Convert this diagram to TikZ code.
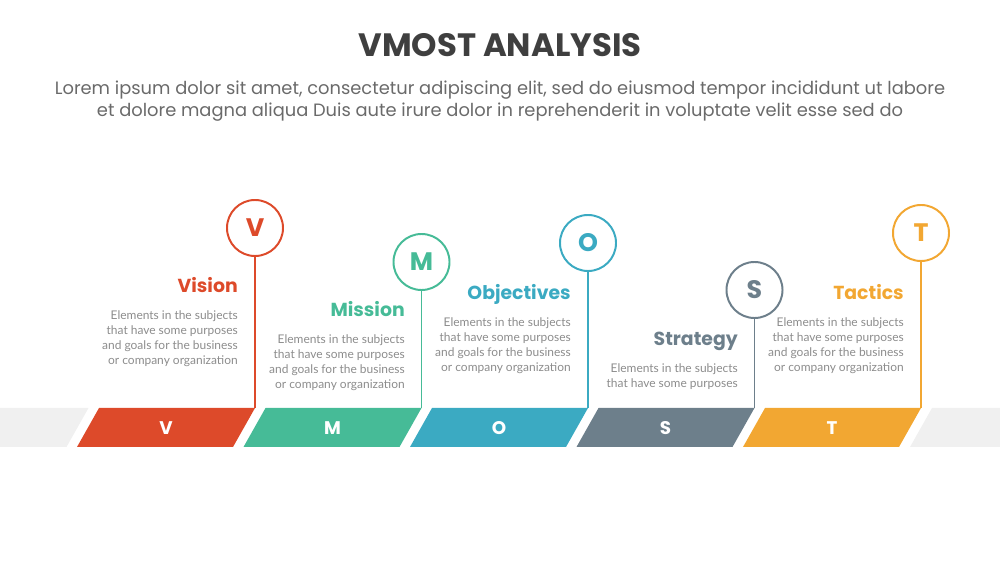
\documentclass[tikz,border=0pt]{standalone}
\usepackage{fontspec}
\setmainfont{Lato}
\newfontfamily\poppins{Poppins}
\usetikzlibrary{positioning,calc}
\definecolor{colV}{HTML}{DD4A2A}
\definecolor{colM}{HTML}{46BB97}
\definecolor{colO}{HTML}{3BAAC2}
\definecolor{colS}{HTML}{6D7F8B}
\definecolor{colT}{HTML}{F2A732}
\definecolor{band}{HTML}{F0F0F0}
\definecolor{titlegray}{HTML}{3F3F3F}
\definecolor{subgray}{HTML}{6A6A6A}
\definecolor{txtgray}{HTML}{8C8C8C}
\tikzset{stemline/.style={draw, line width=1.4pt}}

\begin{document}
\begin{tikzpicture}[x=0.025cm, y=-0.025cm,
    lettercircle/.style={circle, draw, line width=1.4pt, fill=white, inner sep=0pt, minimum size=1.4cm, font={\poppins\bfseries\fontsize{18}{20}\selectfont}},
    barletter/.style={inner sep=0pt, text=white, font={\poppins\bfseries\fontsize{13}{15}\selectfont}},
    heading/.style={inner sep=0pt, text height=9pt, text depth=3pt, font={\poppins\bfseries\fontsize{13.4}{16}\selectfont}},
    descr/.style={inner sep=0pt, align=right, text=txtgray, font={\fontsize{8.5}{10.7}\selectfont}}]
    \useasboundingbox (0,0) rectangle (1000,563);

    \node[text=titlegray, font={\poppins\bfseries\fontsize{23}{27}\selectfont}] (title) at (500,45) {VMOST ANALYSIS};
    \node[text=subgray, align=center, font={\poppins\fontsize{12.7}{15.6}\selectfont}] (subtitle) at (500,101) {Lorem ipsum dolor sit amet, consectetur adipiscing elit, sed do eiusmod tempor incididunt ut labore\\et dolore magna aliqua Duis aute irure dolor in reprehenderit in voluptate velit esse sed do};

    % grey band ends
    \fill[band] (0,408) -- (88.5,408) -- (66.5,447) -- (0,447) -- cycle;
    \fill[band] (932,408) -- (1000,408) -- (1000,447) -- (910,447) -- cycle;

    % V
    \fill[colV] (77,447) -- (99,408) -- (255,408) -- (233,447) -- cycle;
    \coordinate (pV) at (255,408);
    \node[barletter] (bV) at (166,428) {V};
    \node[lettercircle, draw=colV, text=colV] (cV) at (255,228) {V};
    \draw[stemline, colV] (cV) -- (pV);
    \node[heading, text=colV, anchor=east] (hV) at (238,288) {Vision};
    \node[descr, below left=3.3mm and 0mm of hV.south east] (dV) {Elements in the subjects\\that have some purposes\\and goals for the business\\or company organization};

    % M
    \fill[colM] (243.5,447) -- (265.5,408) -- (421.5,408) -- (399.5,447) -- cycle;
    \coordinate (pM) at (421.5,408);
    \node[barletter] (bM) at (332.5,428) {M};
    \node[lettercircle, draw=colM, text=colM] (cM) at (421.5,262) {M};
    \draw[stemline, colM] (cM) -- (pM);
    \node[heading, text=colM, anchor=east] (hM) at (405,312) {Mission};
    \node[descr, below left=3.3mm and 0mm of hM.south east] (dM) {Elements in the subjects\\that have some purposes\\and goals for the business\\or company organization};

    % O
    \fill[colO] (410,447) -- (432,408) -- (588,408) -- (566,447) -- cycle;
    \coordinate (pO) at (588,408);
    \node[barletter] (bO) at (499,428) {O};
    \node[lettercircle, draw=colO, text=colO] (cO) at (588,243) {O};
    \draw[stemline, colO] (cO) -- (pO);
    \node[heading, text=colO, anchor=east] (hO) at (571,295) {Objectives};
    \node[descr, below left=3.3mm and 0mm of hO.south east] (dO) {Elements in the subjects\\that have some purposes\\and goals for the business\\or company organization};

    % S
    \fill[colS] (576.5,447) -- (598.5,408) -- (754.5,408) -- (732.5,447) -- cycle;
    \coordinate (pS) at (754.5,408);
    \node[barletter] (bS) at (665.5,428) {S};
    \node[lettercircle, draw=colS, text=colS] (cS) at (754.5,290) {S};
    \draw[stemline, colS] (cS) -- (pS);
    \node[heading, text=colS, anchor=east] (hS) at (738,341) {Strategy};
    \node[descr, below left=3.3mm and 0mm of hS.south east] (dS) {Elements in the subjects\\that have some purposes};

    % T
    \fill[colT] (743,447) -- (765,408) -- (921,408) -- (899,447) -- cycle;
    \coordinate (pT) at (921,408);
    \node[barletter] (bT) at (832,428) {T};
    \node[lettercircle, draw=colT, text=colT] (cT) at (921,233) {T};
    \draw[stemline, colT] (cT) -- (pT);
    \node[heading, text=colT, anchor=east] (hT) at (904,295) {Tactics};
    \node[descr, below left=3.3mm and 0mm of hT.south east] (dT) {Elements in the subjects\\that have some purposes\\and goals for the business\\or company organization};
\end{tikzpicture}
\end{document}
